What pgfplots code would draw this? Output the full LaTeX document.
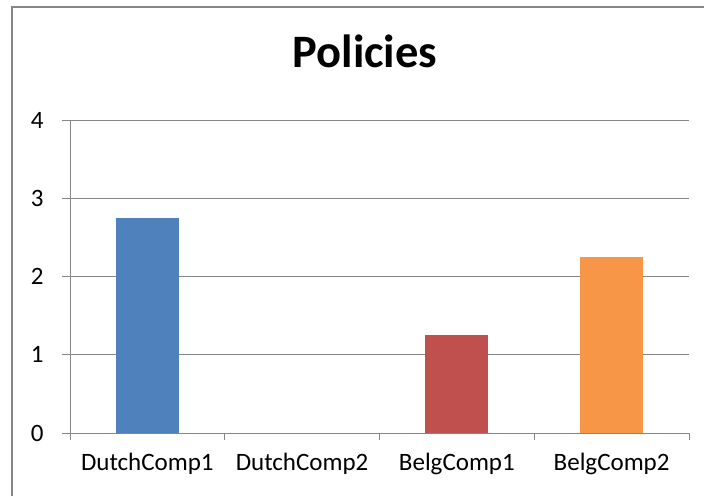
\documentclass[border=0pt]{standalone}
\usepackage{pgfplots}
\pgfplotsset{compat=1.18}
\usepackage{fontspec}
\setmainfont{Carlito}
\definecolor{axgray}{HTML}{868686}
\definecolor{sblue}{HTML}{4F81BD}
\definecolor{sred}{HTML}{C0504D}
\definecolor{sorange}{HTML}{F79646}
\begin{document}
\begin{tikzpicture}[x=1pt,y=1pt]
\useasboundingbox (0,0) rectangle (704,496);
% chart frame
\draw[axgray,line width=1.2pt] (12,0) -- (12,489) -- (704,489);
\node[font=\fontsize{46.5}{50}\selectfont\bfseries,anchor=base] at (365,428) {Policies};
\begin{axis}[
  at={(70pt,63pt)}, anchor=south west,
  scale only axis, width=619pt, height=313pt,
  ymin=0, ymax=4, ytick={0,1,2,3,4},
  xmin=-0.5, xmax=3.5,
  xtick={0,1,2,3},
  xticklabels={DutchComp1,DutchComp2,BelgComp1,BelgComp2},
  minor xtick={-0.5,0.5,1.5,2.5,3.5},
  axis x line*=bottom, axis y line*=left,
  axis line style={axgray,line width=1pt,-},
  ymajorgrids, grid style={axgray,line width=1pt},
  major x tick style={draw=none},
  minor x tick style={axgray,line width=1pt},
  ytick style={axgray,line width=1pt},
  tick align=outside, major tick length=8pt, minor tick length=7pt,
  ticklabel style={font=\fontsize{25}{29}\selectfont},
  /pgf/number format/assume math mode=true,
  xticklabel style={yshift=-9pt},
  yticklabel style={xshift=-15pt},
  ybar, bar width=63pt, bar shift=0pt,
  every axis plot/.append style={draw=none},
]
\addplot[fill=sblue] coordinates {(0,2.75)};
\addplot[fill=sred] coordinates {(2,1.25)};
\addplot[fill=sorange] coordinates {(3,2.25)};
\end{axis}
\end{tikzpicture}
\end{document}
